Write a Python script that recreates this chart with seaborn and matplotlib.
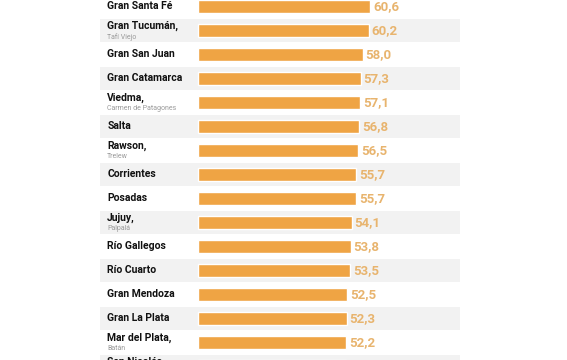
import matplotlib
matplotlib.use('Agg')
import matplotlib.pyplot as plt
import matplotlib.transforms as mtransforms
import seaborn as sns

# data
cities = ['Gran Santa Fé', 'Gran Tucumán,', 'Gran San Juan', 'Gran Catamarca',
          'Viedma,', 'Salta', 'Rawson,', 'Corrientes', 'Posadas', 'Jujuy,',
          'Río Gallegos', 'Río Cuarto', 'Gran Mendoza', 'Gran La Plata',
          'Mar del Plata,', 'San Nicolás,']
sublabels = ['', 'Tafí Viejo', '', '', 'Carmen de Patagones', '', 'Trelew', '',
             '', 'Palpalá', '', '', '', '', 'Batán', 'Villa Constitución']
values = [60.6, 60.2, 58.0, 57.3, 57.1, 56.8, 56.5, 55.7, 55.7, 54.1,
          53.8, 53.5, 52.5, 52.3, 52.2, 52.0]

bar_color = '#EFA444'
value_color = '#E8B46E'

sns.set_style('white')
plt.rcParams['font.family'] = ['Roboto', 'DejaVu Sans']

fig = plt.figure(figsize=(5.67, 3.6), dpi=100)
ax = fig.add_axes([0, 0, 1, 1])

y_top, y_bottom = -0.27, 14.73

# alternating grey bands behind odd rows
for i in range(len(cities)):
    if i % 2 == 1:
        ax.axhspan(i - 0.46, i + 0.46, xmin=0.176, xmax=0.811,
                   color='#F2F2F2', zorder=0, lw=0)

sns.barplot(x=values, y=cities, color=bar_color, saturation=1,
            width=0.52, orient='h', ax=ax, zorder=2)

trans = mtransforms.blended_transform_factory(ax.transAxes, ax.transData)
for i, (name, sub, v) in enumerate(zip(cities, sublabels, values)):
    if sub:
        ax.text(0.189, i - 0.2, name, transform=trans, ha='left', va='center',
                fontsize=7.5, fontweight='bold', color='#111111')
        ax.text(0.189, i + 0.27, sub, transform=trans, ha='left', va='center',
                fontsize=5, color='#9a9a9a')
    else:
        ax.text(0.189, i, name, transform=trans, ha='left', va='center',
                fontsize=7.5, fontweight='bold', color='#111111')
    if i < y_bottom - 0.3:
        ax.text(v + 1.0, i, f'{v:.1f}'.replace('.', ','), ha='left', va='center',
                fontsize=9.5, fontweight='bold', color=value_color)

ax.set_xlim(-69.7, 129.9)
ax.set_ylim(y_bottom, y_top)
ax.axis('off')

fig.savefig('out.png', dpi=100)
